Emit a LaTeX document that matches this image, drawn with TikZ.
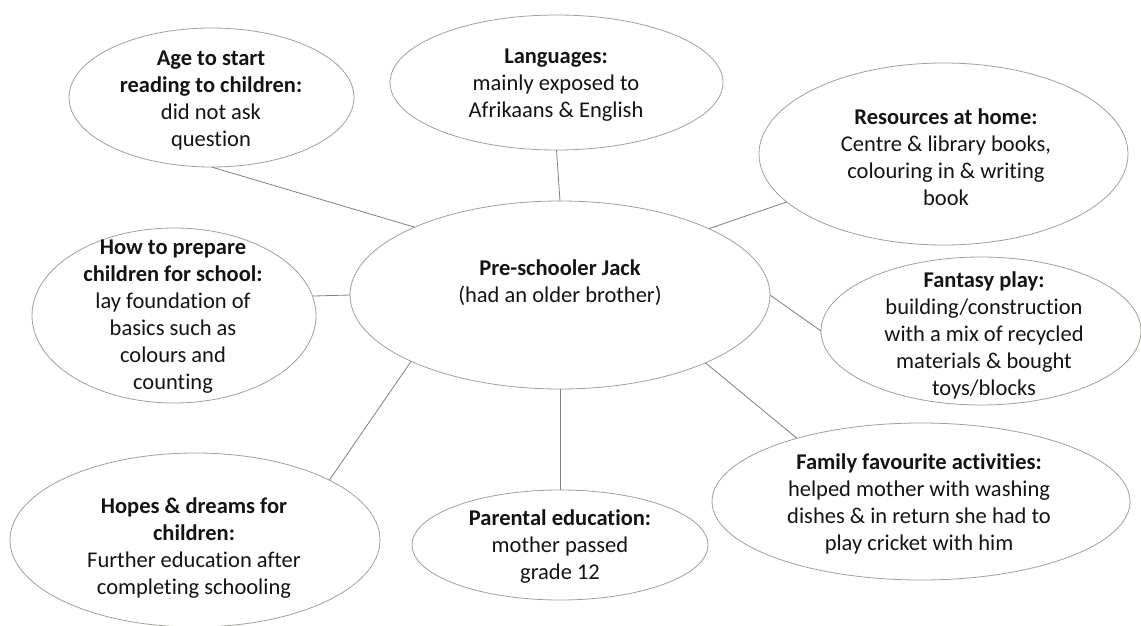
\documentclass[tikz,border=0pt]{standalone}
\usepackage{fontspec}
\setmainfont[Ligatures=NoCommon]{Carlito}
\usetikzlibrary{shapes.geometric}
\definecolor{rimgray}{RGB}{160,160,154}
\definecolor{linkgray}{RGB}{128,128,128}
\definecolor{inkblack}{RGB}{20,20,20}
\tikzset{
  bubble/.style={ellipse, draw=rimgray, line width=0.8pt, inner sep=0pt, outer sep=0pt},
  bubbletext/.style={align=center, inner sep=0pt, text=inkblack,
    font=\fontsize{22.5}{27}\selectfont},
  link/.style={draw=linkgray, line width=0.8pt}
}
\begin{document}
\begin{tikzpicture}[x=1pt,y=-1pt]
\useasboundingbox[fill=white] (0,0) rectangle (1141,626);

% outlines
\node[bubble, minimum width=420pt, minimum height=188pt] (jack) at (560,295) {};
\node[bubble, minimum width=285pt, minimum height=139pt] (age) at (211.5,97.5) {};
\node[bubble, minimum width=333pt, minimum height=135pt] (lang) at (556.5,82.5) {};
\node[bubble, minimum width=369pt, minimum height=182pt] (res) at (943.5,154) {};
\node[bubble, minimum width=284pt, minimum height=175pt] (prep) at (174,315.5) {};
\node[bubble, minimum width=320pt, minimum height=148pt] (play) at (981,331) {};
\node[bubble, minimum width=370pt, minimum height=174pt] (hope) at (195,540) {};
\node[bubble, minimum width=296pt, minimum height=110pt] (edu) at (560,545) {};
\node[bubble, minimum width=418pt, minimum height=157pt] (fam) at (921,501.5) {};

% texts
\node[bubbletext] (jackT) at (560,283) {\textbf{Pre-schooler Jack}\\(had an older brother)};
\node[bubbletext] (ageT) at (211,101) {\textbf{Age to start}\\\textbf{reading to children:}\\did not ask\\question};
\node[bubbletext] (langT) at (556,85) {\textbf{Languages:}\\mainly exposed to\\Afrikaans \& English};
\node[bubbletext] (resT) at (946,157) {\textbf{Resources at home:}\\Centre \& library books,\\colouring in \& writing\\book};
\node[bubbletext] (prepT) at (173,317) {\textbf{How to prepare}\\\textbf{children for school:}\\lay foundation of\\basics such as\\colours and\\counting};
\node[bubbletext] (playT) at (984,335) {\textbf{Fantasy play:}\\building/construction\\with a mix of recycled\\materials \& bought\\toys/blocks};
\node[bubbletext] (hopeT) at (194,548) {\textbf{Hopes \& dreams for}\\\textbf{children:}\\Further education after\\completing schooling};
\node[bubbletext] (eduT) at (560,547) {\textbf{Parental education:}\\mother passed\\grade 12};
\node[bubbletext] (famT) at (919,504) {\textbf{Family favourite activities:}\\helped mother with washing\\dishes \& in return she had to\\play cricket with him};

% connectors
\draw[link] (jack.155.6) -- (age.270);
\draw[link] (jack.90) -- (lang.270);
\draw[link] (jack.24.7) -- (res.197.4);
\draw[link] (jack.180) -- (prep.8.7);
\draw[link] (jack.0) -- (play.180);
\draw[link] (jack.204.7) -- (hope.24.8);
\draw[link] (jack.270) -- (edu.90);
\draw[link] (jack.335.6) -- (fam.153.6);
\end{tikzpicture}
\end{document}
